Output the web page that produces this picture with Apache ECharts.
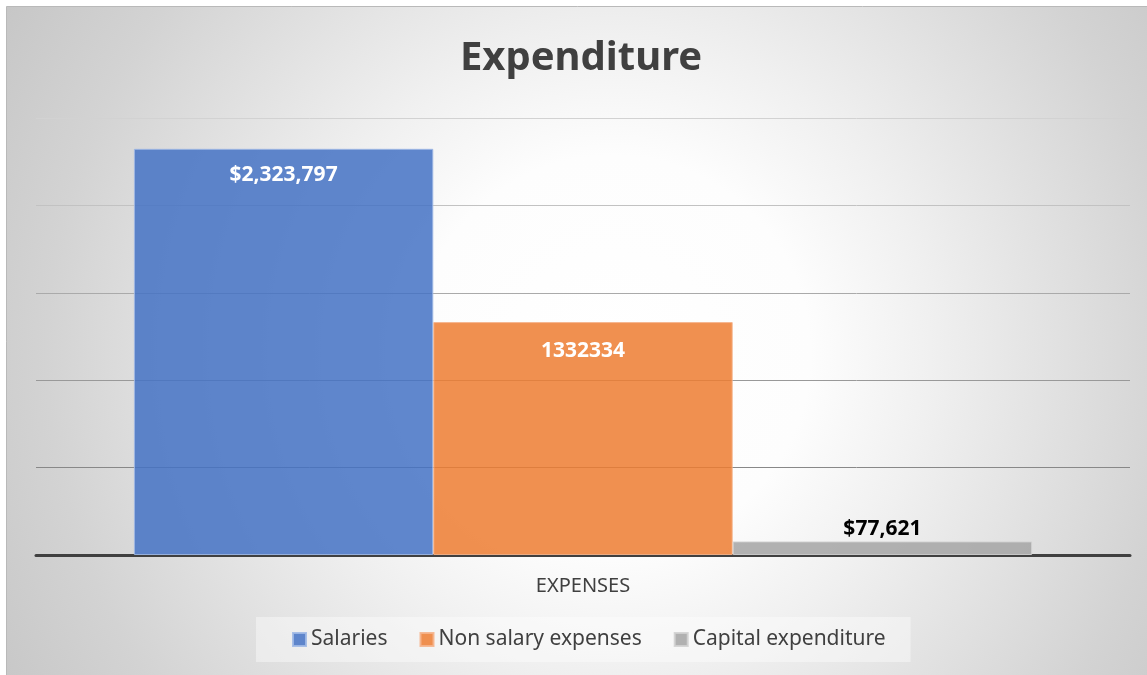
<!DOCTYPE html>
<html>
<head>
<meta charset="utf-8">
<script src="https://cdn.jsdelivr.net/npm/echarts@6/dist/echarts.min.js"></script>
<style>
html,body{margin:0;padding:0;background:#fff;}
#c{width:1147px;height:675px;}
</style>
</head>
<body>
<div id="c"></div>
<script>
const categories = ['EXPENSES'];
const seriesNames = ['Salaries', 'Non salary expenses', 'Capital expenditure'];
const salaries = [2323797];
const nonSalaryExpenses = [1332334];
const capitalExpenditure = [77621];
const yMin = 0, yMax = 2500000, yInterval = 500000;

const money = v => '$' + Number(v).toLocaleString('en-US');
const FONT = 'Noto Sans';

const chart = echarts.init(document.getElementById('c'), null, {renderer: 'canvas'});
const option = {
  backgroundColor: '#ffffff',
  animation: false,
  graphic: [{
    type: 'rect', z: -10, silent: true,
    shape: {x: 6.5, y: 6.5, width: 1145, height: 675},
    style: {
      fill: {
        type: 'radial', x: 0.529, y: 0.514, r: 1.046,
        colorStops: [
          {offset: 0, color: '#ffffff'},
          {offset: 0.28, color: '#fdfdfd'},
          {offset: 0.45, color: '#f0f0f0'},
          {offset: 0.63, color: '#e1e1e1'},
          {offset: 0.8, color: '#d3d3d3'},
          {offset: 1, color: '#c6c6c6'}
        ]
      },
      stroke: '#b9b9b9', lineWidth: 1
    }
  }],
  title: {
    text: 'Expenditure', left: 581, top: 39, padding: 0, textAlign: 'center',
    textStyle: {fontFamily: FONT, fontSize: 40, fontWeight: 'bold', color: '#404040'}
  },
  legend: {
    data: seriesNames, left: 256, top: 617, padding: [12, 25, 12, 36],
    itemWidth: 13, itemHeight: 13, itemGap: 32, icon: 'rect',
    backgroundColor: 'rgba(255,255,255,0.4)',
    textStyle: {fontFamily: FONT, fontSize: 21, color: '#404040'}
  },
  grid: {left: 36, right: 17, top: 118, bottom: 120, containLabel: false},
  xAxis: {
    type: 'category', data: categories,
    axisTick: {show: false},
    axisLine: {lineStyle: {color: '#404040', width: 3}},
    axisLabel: {fontFamily: FONT, fontSize: 20, color: '#404040', margin: 21}
  },
  yAxis: {
    type: 'value', min: yMin, max: yMax, interval: yInterval,
    axisLabel: {show: false}, axisLine: {show: false}, axisTick: {show: false},
    splitLine: {lineStyle: {color: ['#888888', '#888888', '#999999', '#aaaaaa', '#c2c2c2', '#d2d2d2'], width: 1}}
  },
  series: [
    {
      name: seriesNames[0], type: 'bar', data: salaries, barGap: '0%', barCategoryGap: '17.9%',
      itemStyle: {color: 'rgba(68,114,196,0.85)', borderColor: 'rgba(160,185,230,0.9)', borderWidth: 1},
      label: {show: true, position: 'insideTop', distance: 16, formatter: p => money(p.value),
        fontFamily: FONT, fontSize: 21, fontWeight: 'bold', color: '#ffffff'}
    },
    {
      name: seriesNames[1], type: 'bar', data: nonSalaryExpenses, barGap: '0%', barCategoryGap: '17.9%',
      itemStyle: {color: 'rgba(237,125,49,0.85)', borderColor: 'rgba(245,180,140,0.9)', borderWidth: 1},
      label: {show: true, position: 'insideTop', distance: 18, formatter: p => String(p.value),
        fontFamily: FONT, fontSize: 21, fontWeight: 'bold', color: '#ffffff'}
    },
    {
      name: seriesNames[2], type: 'bar', data: capitalExpenditure, barGap: '0%', barCategoryGap: '17.9%',
      itemStyle: {color: 'rgba(165,165,165,0.85)', borderColor: 'rgba(210,210,210,0.9)', borderWidth: 1},
      label: {show: true, position: 'top', distance: 2, formatter: p => money(p.value),
        fontFamily: FONT, fontSize: 21, fontWeight: 'bold', color: '#000000'}
    }
  ]
};
chart.setOption(option);
</script>
</body>
</html>
